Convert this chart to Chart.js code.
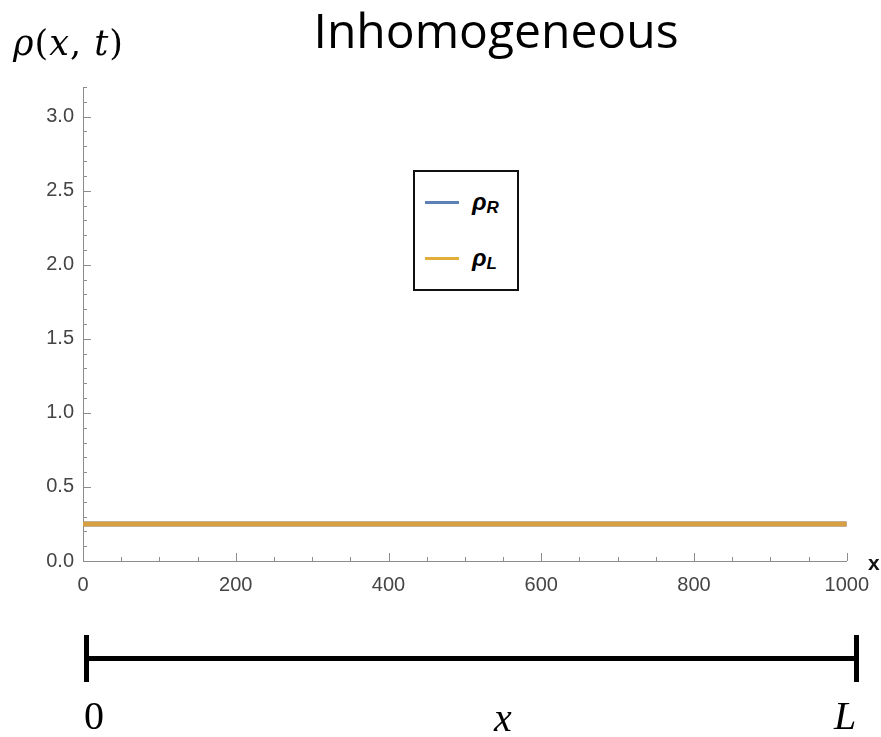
<!DOCTYPE html>
<html>
<head>
<meta charset="utf-8">
<script src="https://cdn.jsdelivr.net/npm/chart.js@4/dist/chart.umd.min.js"></script>
<style>
  html, body { margin:0; padding:0; background:#fff; }
  #wrap { position:relative; width:881px; height:737px; overflow:hidden; }
  #c { position:absolute; left:0; top:0; }
  .t { position:absolute; white-space:nowrap; line-height:1; }
  .bar { position:absolute; background:#000; }
</style>
</head>
<body>
<div id="wrap">
  <canvas id="c" width="881" height="737"></canvas>
  <div class="t" style="left:0;width:992px;text-align:center;top:6px;font-family:'Open Sans';font-size:48px;color:#000;">Inhomogeneous</div>
  <div class="t" style="left:13px;top:26px;font-family:'DejaVu Serif';font-size:35px;color:#000;letter-spacing:1px;"><i>ρ</i>(<i>x</i>, <i>t</i>)</div>

  <div id="legend" style="position:absolute;left:413px;top:170px;width:102px;height:117px;border:2px solid #111;background:#fff;">
    <div style="position:absolute;left:10px;top:29px;width:34px;height:3px;background:#5E81B5;"></div>
    <div class="t" style="left:57px;top:18px;font-family:'Liberation Sans';font-weight:bold;font-style:italic;font-size:24px;color:#000;">ρ<span style="font-size:17px;position:relative;top:3px;">R</span></div>
    <div style="position:absolute;left:10px;top:85px;width:34px;height:3px;background:#E2AE3C;"></div>
    <div class="t" style="left:57px;top:74px;font-family:'Liberation Sans';font-weight:bold;font-style:italic;font-size:24px;color:#000;">ρ<span style="font-size:17px;position:relative;top:3px;">L</span></div>
  </div>

  <div class="t" style="left:868px;top:552px;font-family:'Liberation Sans';font-weight:bold;font-size:21px;color:#111;">x</div>

  <div class="bar" style="left:84px;top:635px;width:5px;height:47px;"></div>
  <div class="bar" style="left:854px;top:635px;width:5px;height:47px;"></div>
  <div class="bar" style="left:86px;top:656px;width:770px;height:5px;"></div>
  <div class="t" style="left:84px;top:696px;font-family:'Liberation Serif';font-size:40px;color:#000;">0</div>
  <div class="t" style="left:494px;top:698px;font-family:'Liberation Serif';font-style:italic;font-size:40px;color:#000;">x</div>
  <div class="t" style="left:834px;top:696px;font-family:'Liberation Serif';font-style:italic;font-size:40px;color:#000;">L</div>
</div>
<script>
// ---- data ----
const xPositions = [0, 1000];
const rhoR = [0.25, 0.25];
const rhoL = [0.25, 0.25];
const xTickLabels = [0, 200, 400, 600, 800, 1000];
const yTickLabels = [0, 0.5, 1.0, 1.5, 2.0, 2.5, 3.0];
const xMinorStep = 50;
const yMinorStep = 0.1;
const xMax = 1000;
const yMax = 3.2;

const pts = arr => arr.map((v, i) => ({ x: xPositions[i], y: v }));

const tickPlugin = {
  id: 'innerTicks',
  afterDraw(chart) {
    const ctx = chart.ctx;
    const xs = chart.scales.x, ys = chart.scales.y;
    const x0 = xs.getPixelForValue(0), y0 = ys.getPixelForValue(0);
    ctx.save();
    ctx.strokeStyle = '#8c8c8c';
    ctx.lineWidth = 1;
    ctx.beginPath();
    const nx = Math.round(xMax / xMinorStep);
    for (let i = 1; i <= nx; i++) {
      const v = i * xMinorStep;
      const major = xTickLabels.includes(v);
      const px = Math.round(xs.getPixelForValue(v)) + 0.5;
      ctx.moveTo(px, y0);
      ctx.lineTo(px, y0 - (major ? 8 : 4));
    }
    const ny = Math.round(yMax / yMinorStep);
    for (let i = 1; i <= ny; i++) {
      const v = +(i * yMinorStep).toFixed(1);
      const major = yTickLabels.includes(v);
      const py = Math.round(ys.getPixelForValue(v)) + 0.5;
      ctx.moveTo(x0, py);
      ctx.lineTo(x0 + (major ? 8 : 4), py);
    }
    ctx.stroke();
    ctx.restore();
  }
};

new Chart(document.getElementById('c'), {
  type: 'line',
  data: {
    datasets: [
      { label: 'ρR', data: pts(rhoR), borderColor: '#5E81B5', borderWidth: 5, pointRadius: 0, order: 1 },
      { label: 'ρL', data: pts(rhoL), borderColor: '#D9A043', borderWidth: 5, pointRadius: 0, order: 0 }
    ]
  },
  options: {
    responsive: false,
    animation: false,
    layout: { padding: { left: 0, right: 31, top: 87, bottom: 0 } },
    plugins: { legend: { display: false }, title: { display: false }, tooltip: { enabled: false } },
    scales: {
      x: {
        type: 'linear', min: 0, max: xMax,
        grid: { display: false, drawTicks: false },
        border: { display: true, color: '#8c8c8c', width: 1 },
        afterBuildTicks: s => { s.ticks = xTickLabels.map(v => ({ value: v })); },
        afterFit: s => { s.height = 176; },
        ticks: { padding: 12, color: '#444', maxRotation: 0, font: { family: 'Liberation Sans', size: 20 }, callback: v => String(v) }
      },
      y: {
        type: 'linear', min: 0, max: yMax,
        grid: { display: false, drawTicks: false },
        border: { display: true, color: '#8c8c8c', width: 1 },
        afterBuildTicks: s => { s.ticks = yTickLabels.map(v => ({ value: v })); },
        afterFit: s => { s.width = 83; },
        ticks: { padding: 9, color: '#444', font: { family: 'Liberation Sans', size: 20 }, callback: v => Number(v).toFixed(1) }
      }
    }
  },
  plugins: [tickPlugin]
});
</script>
</body>
</html>
